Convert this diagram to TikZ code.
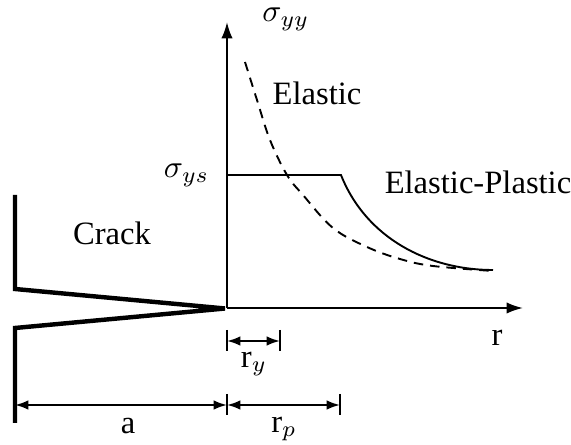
\documentclass[tikz,border=0pt]{standalone}
\usepackage{fontspec}
\setmainfont{Liberation Serif}
\usepackage{amsmath}
\usetikzlibrary{arrows.meta,positioning,calc}

\begin{document}
\begin{tikzpicture}[
      x=0.316pt, y=-0.316pt,
      axis/.style={-{Latex[length=5.2pt,width=3.6pt]}, line width=0.65pt},
      crackline/.style={line width=1.4pt, line join=miter},
      dimarr/.style={{Latex[length=4.2pt,width=3pt]}-{Latex[length=4.2pt,width=3pt]}, line width=0.6pt},
      tick/.style={line width=0.6pt},
      curve/.style={line width=0.6pt},
      lbl/.style={inner sep=1pt, font=\fontsize{10.3}{12}\selectfont}
    ]
    \useasboundingbox (0,0) rectangle (571,445);
    % axes
    \coordinate (O) at (227,308);
    \coordinate (ytip) at (227,22);
    \coordinate (xtip) at (523,308);
    \draw[axis] (O) -- (ytip);
    \draw[axis] (O) -- (xtip);
    % crack faces
    \coordinate (ctop) at (15,195);
    \coordinate (cup) at (15,289);
    \coordinate (clow) at (15,328);
    \coordinate (cbot) at (15,423);
    \coordinate (tip) at (225,308.5);
    \draw[crackline] (ctop) -- (cup) -- (tip) -- (clow) -- (cbot);
    % stress distributions
    \coordinate (ys) at (227,175);
    \coordinate (ysend) at (341,175);
    \coordinate (far) at (493,270);
    \draw[curve] (ys) -- (ysend) .. controls (366,238) and (428,270) .. (far);
    \draw[curve, dash pattern=on 3pt off 2.2pt] plot[smooth, tension=0.6] coordinates
      {(245,62) (257,100) (270,140) (287,175) (303,195) (333,228) (367,247) (400,259) (433,266) (493,271)};
    % dimension r_y
    \coordinate (ry0) at (227,341);
    \coordinate (ry1) at (280,341);
    \draw[tick] ($(ry0)+(0,-11)$) -- ($(ry0)+(0,10)$);
    \draw[tick] ($(ry1)+(0,-11)$) -- ($(ry1)+(0,10)$);
    \draw[dimarr] (ry0) -- (ry1);
    % dimensions a and r_p
    \coordinate (a0) at (15,405);
    \coordinate (a1) at (227,405);
    \coordinate (rp1) at (340,405);
    \draw[tick] ($(a1)+(0,-11)$) -- ($(a1)+(0,10)$);
    \draw[tick] ($(rp1)+(0,-11)$) -- ($(rp1)+(0,10)$);
    \draw[dimarr] (a0) -- (a1);
    \draw[dimarr] (a1) -- (rp1);
    % labels
    \node[lbl, above right=-4pt and 10pt of ytip] (syy) {$\sigma_{yy}$};
    \node[lbl, anchor=east] (sys) at (213,175) {$\sigma_{ys}$};
    \node[lbl] (elastic) at (317,93) {Elastic};
    \node[lbl] (elpl) at (478,182) {Elastic-Plastic};
    \node[lbl] (crack) at (112,233) {Crack};
    \node[lbl] (rlab) at (497,338) {r};
    \node[lbl] (rylab) at (254,364) {r$_y$};
    \node[lbl] (alab) at (128,426) {a};
    \node[lbl] (rplab) at (284,429) {r$_p$};
  \end{tikzpicture}
\end{document}
